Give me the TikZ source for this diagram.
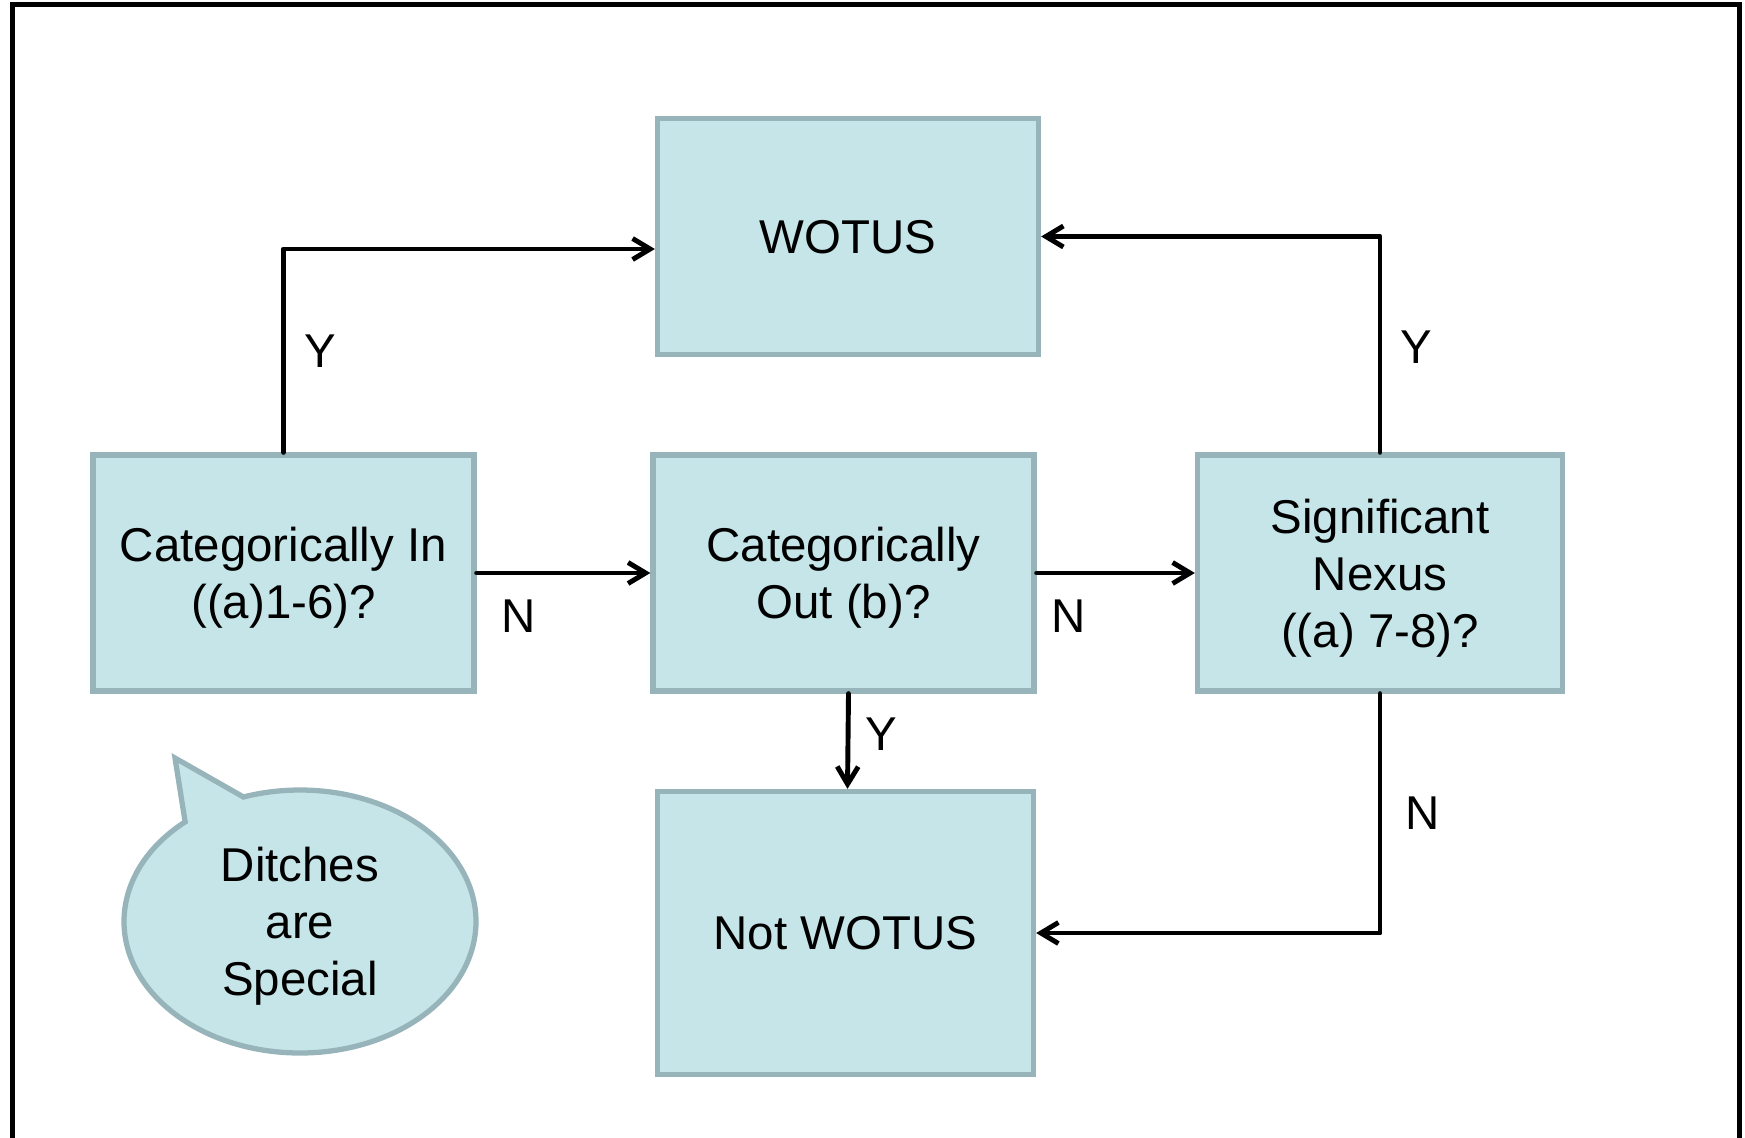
\documentclass[tikz,border=0pt]{standalone}
\usepackage{fontspec}
\setmainfont{Liberation Sans}
\usepackage{tikz}
\usetikzlibrary{shapes,arrows.meta}

\definecolor{boxfill}{RGB}{198,229,232}
\definecolor{boxline}{RGB}{150,180,185}

\begin{document}
\begin{tikzpicture}
        \tikzstyle{block} = [rectangle, draw=boxline, fill=boxfill, line width=3pt, minimum width=7.62cm, minimum height=4.72cm, align=center, text depth=0pt, font=\fontsize{27}{32.4}\selectfont]
        \tikzstyle{line} = [draw, line width=2.8pt, line cap=round, line join=round, -{Straight Barb[length=3.5mm, width=4.2mm]}]
        \tikzstyle{answer} = [inner sep=0pt, font=\fontsize{27}{32.4}\selectfont]

        \useasboundingbox (0,0) rectangle (34.9,-22.74);
        \draw [line width=2.8pt] (0.25,-23) -- (0.25,-0.09) -- (34.79,-0.09) -- (34.79,-23);

        \node [block] (catin) at (5.67,-11.46) {Categorically In\\((a)1-6)?};
        \node [block, right of=catin, node distance=11.2cm] (catout) {Categorically\\Out (b)?};
        \node [block, right of=catout, node distance=10.73cm, minimum width=7.3cm] (nexus) {Significant\\Nexus\\((a) 7-8)?};
        \node [block, above of=catout, node distance=6.73cm, xshift=0.09cm] (wotus) {WOTUS};
        \node [block, below of=catout, node distance=7.2cm, xshift=0.04cm, minimum width=7.52cm, minimum height=5.66cm] (notwotus) {Not WOTUS};
        \node [ellipse callout, draw=boxline, fill=boxfill, line width=3pt, minimum width=7.04cm, minimum height=5.26cm, callout absolute pointer={(3.5,-15.16)}, callout pointer arc=22, align=center, text depth=0pt, font=\fontsize{27}{32.4}\selectfont, below of=catin, node distance=6.97cm, xshift=0.33cm] (ditches) {Ditches\\are\\Special};

        \path [line] (catin.north) |- node[answer, pos=0.25, right, xshift=0.38cm] {Y} ([yshift=-0.25cm]wotus.west);
        \path [line] (catin) -- node[answer, pos=0.24, below, yshift=-0.48cm] {N} (catout);
        \path [line] (catout) -- node[answer, pos=0.2, below, yshift=-0.48cm] {N} (nexus);
        \path [line] (nexus.north) |- node[answer, pos=0.25, right, xshift=0.36cm, yshift=-0.06cm] {Y} (wotus.east);
        \path [line] ([xshift=0.1cm]catout.south) -- node[answer, midway, right, xshift=0.3cm, yshift=0.14cm] {Y} ([xshift=0.04cm]notwotus.north);
        \path [line] (nexus.south) |- node[answer, pos=0.25, right, xshift=0.46cm] {N} (notwotus.east);
    \end{tikzpicture}
\end{document}
